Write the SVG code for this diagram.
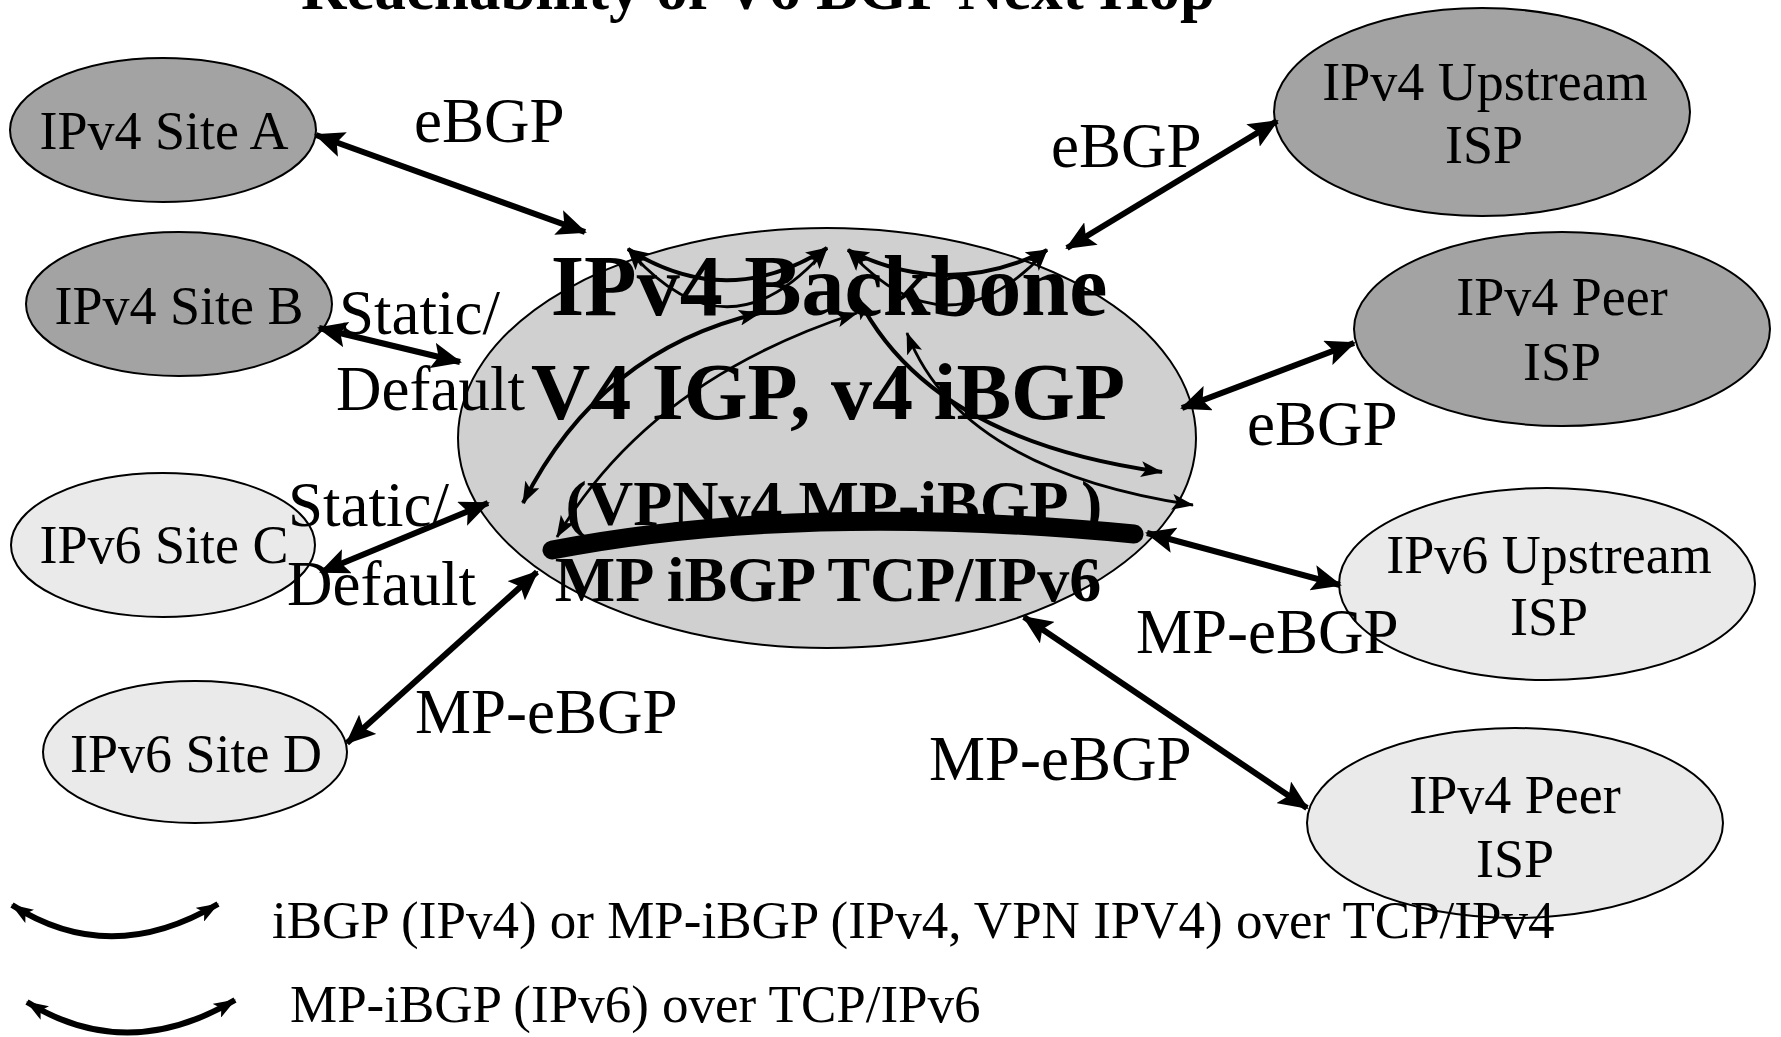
<svg xmlns="http://www.w3.org/2000/svg" width="1781" height="1037" viewBox="0 0 1781 1037">
  <style>
    .node { stroke: #000; stroke-width: 2; }
    .v4 { fill: #a3a3a3; }
    .v6 { fill: #eaeaea; }
    .core { fill: #d0d0d0; stroke: #000; stroke-width: 2; }
    .ntext { font-family: "Liberation Serif", "Times New Roman", serif; font-size: 54px; text-anchor: middle; fill: #000; }
    .label { font-family: "Liberation Serif", "Times New Roman", serif; font-size: 63px; fill: #000; }
    .bold { font-family: "Liberation Serif", "Times New Roman", serif; font-weight: bold; fill: #000; }
    .legend { font-family: "Liberation Serif", "Times New Roman", serif; font-size: 53px; fill: #000; }
    .ebgp { stroke: #000; stroke-width: 6; fill: none; marker-start: url(#headBig); marker-end: url(#headBig); }
    .ibgp { stroke: #000; stroke-width: 4; fill: none; marker-start: url(#headSmall); marker-end: url(#headSmall); }
    .ibgp6 { stroke: #000; stroke-width: 2.8; fill: none; marker-start: url(#headSmall); marker-end: url(#headSmall); }
  </style>
  <defs>
    <marker id="headBig" viewBox="0 0 30 26" refX="28" refY="13" markerWidth="30" markerHeight="26" markerUnits="userSpaceOnUse" orient="auto-start-reverse">
      <path d="M0,0 L30,13 L0,26 L6,13 Z" fill="#000"/>
    </marker>
    <marker id="headSmall" viewBox="0 0 22 16" refX="21" refY="8" markerWidth="22" markerHeight="16" markerUnits="userSpaceOnUse" orient="auto-start-reverse">
      <path d="M0,0 L22,8 L0,16 L5,8 Z" fill="#000"/>
    </marker>
  </defs>

  <!-- title, partly above the top edge -->
  <text class="bold" x="758" y="9" font-size="63" text-anchor="middle">Reachability of V6 BGP Next Hop</text>

  <!-- backbone -->
  <g id="backbone">
    <ellipse class="core" cx="827" cy="438" rx="369" ry="210"/>
    <text class="bold" x="829" y="315" font-size="86" text-anchor="middle">IPv4 Backbone</text>
    <text class="bold" x="828" y="419" font-size="80" text-anchor="middle" textLength="594" lengthAdjust="spacingAndGlyphs">V4 IGP, v4 iBGP</text>
    <text class="bold" x="834" y="525" font-size="64" text-anchor="middle">(VPNv4 MP-iBGP )</text>
    <text class="bold" x="828" y="601" font-size="64" text-anchor="middle">MP iBGP TCP/IPv6</text>
  </g>

  <!-- sessions inside the backbone -->
  <g id="ibgp-sessions">
    <path class="ibgp" d="M628,249 Q727,312 827,248"/>
    <path class="ibgp6" d="M628,249 Q727,365 827,248"/>
    <path class="ibgp" d="M848,250 Q947,300 1047,250"/>
    <path class="ibgp6" d="M848,250 Q947,360 1047,250"/>
    <path class="ibgp" d="M760,313 Q600,350 523,503"/>
    <path class="ibgp6" d="M857,313 Q650,380 557,537"/>
    <path class="ibgp" d="M858,298 Q930,440 1162,472"/>
    <path class="ibgp6" d="M907,333 Q960,470 1193,505"/>
    <!-- MP-iBGP over IPv6 -->
    <path d="M552,550 Q800,502 1134,534" stroke="#000" stroke-width="19" stroke-linecap="round" fill="none"/>
  </g>

  <!-- sites and upstreams -->
  <g id="site-a">
    <ellipse class="node v4" cx="163" cy="130" rx="153" ry="72"/>
    <text class="ntext" x="164" y="149">IPv4 Site A</text>
  </g>
  <g id="site-b">
    <ellipse class="node v4" cx="179" cy="304" rx="153" ry="72"/>
    <text class="ntext" x="179" y="324">IPv4 Site B</text>
  </g>
  <g id="site-c">
    <ellipse class="node v6" cx="163" cy="545" rx="152" ry="72"/>
    <text class="ntext" x="164" y="563">IPv6 Site C</text>
  </g>
  <g id="site-d">
    <ellipse class="node v6" cx="195" cy="752" rx="152" ry="71"/>
    <text class="ntext" x="196" y="772">IPv6 Site D</text>
  </g>
  <g id="v4-upstream">
    <ellipse class="node v4" cx="1482" cy="112" rx="208" ry="104"/>
    <text class="ntext" x="1485" y="100">IPv4 Upstream</text>
    <text class="ntext" x="1484" y="163">ISP</text>
  </g>
  <g id="v4-peer">
    <ellipse class="node v4" cx="1562" cy="329" rx="208" ry="97"/>
    <text class="ntext" x="1562" y="315">IPv4 Peer</text>
    <text class="ntext" x="1562" y="380">ISP</text>
  </g>
  <g id="v6-upstream">
    <ellipse class="node v6" cx="1547" cy="584" rx="208" ry="96"/>
    <text class="ntext" x="1549" y="573">IPv6 Upstream</text>
    <text class="ntext" x="1549" y="635">ISP</text>
  </g>
  <g id="v4-peer-2">
    <ellipse class="node v6" cx="1515" cy="823" rx="208" ry="95"/>
    <text class="ntext" x="1515" y="813">IPv4 Peer</text>
    <text class="ntext" x="1515" y="877">ISP</text>
  </g>

  <!-- external peerings -->
  <g id="connectors">
    <line class="ebgp" x1="316" y1="135" x2="585" y2="232"/>
    <line class="ebgp" x1="319" y1="328" x2="460" y2="362"/>
    <line class="ebgp" x1="321" y1="572" x2="488" y2="503"/>
    <line class="ebgp" x1="347" y1="743" x2="537" y2="572"/>
    <line class="ebgp" x1="1067" y1="248" x2="1277" y2="121"/>
    <line class="ebgp" x1="1182" y1="408" x2="1354" y2="343"/>
    <line class="ebgp" x1="1147" y1="533" x2="1340" y2="585"/>
    <line class="ebgp" x1="1024" y1="617" x2="1307" y2="808"/>
  </g>

  <!-- connector labels -->
  <g id="labels">
    <text class="label" x="414" y="142">eBGP</text>
    <text class="label" x="339" y="334">Static/</text>
    <text class="label" x="336" y="410">Default</text>
    <text class="label" x="288" y="526">Static/</text>
    <text class="label" x="287" y="605">Default</text>
    <text class="label" x="415" y="733">MP-eBGP</text>
    <text class="label" x="1051" y="167">eBGP</text>
    <text class="label" x="1247" y="445">eBGP</text>
    <text class="label" x="1136" y="653">MP-eBGP</text>
    <text class="label" x="929" y="780">MP-eBGP</text>
  </g>

  <!-- legend -->
  <g id="legend">
    <path d="M12,905 Q110,968 218,904" stroke="#000" stroke-width="6" fill="none" marker-start="url(#headSmall)" marker-end="url(#headSmall)"/>
    <path d="M27,1002 Q127,1064 235,1000" stroke="#000" stroke-width="6" fill="none" marker-start="url(#headSmall)" marker-end="url(#headSmall)"/>
    <text class="legend" x="272" y="938">iBGP (IPv4) or MP-iBGP (IPv4, VPN IPV4) over TCP/IPv4</text>
    <text class="legend" x="290" y="1022">MP-iBGP (IPv6) over TCP/IPv6</text>
  </g>
</svg>
